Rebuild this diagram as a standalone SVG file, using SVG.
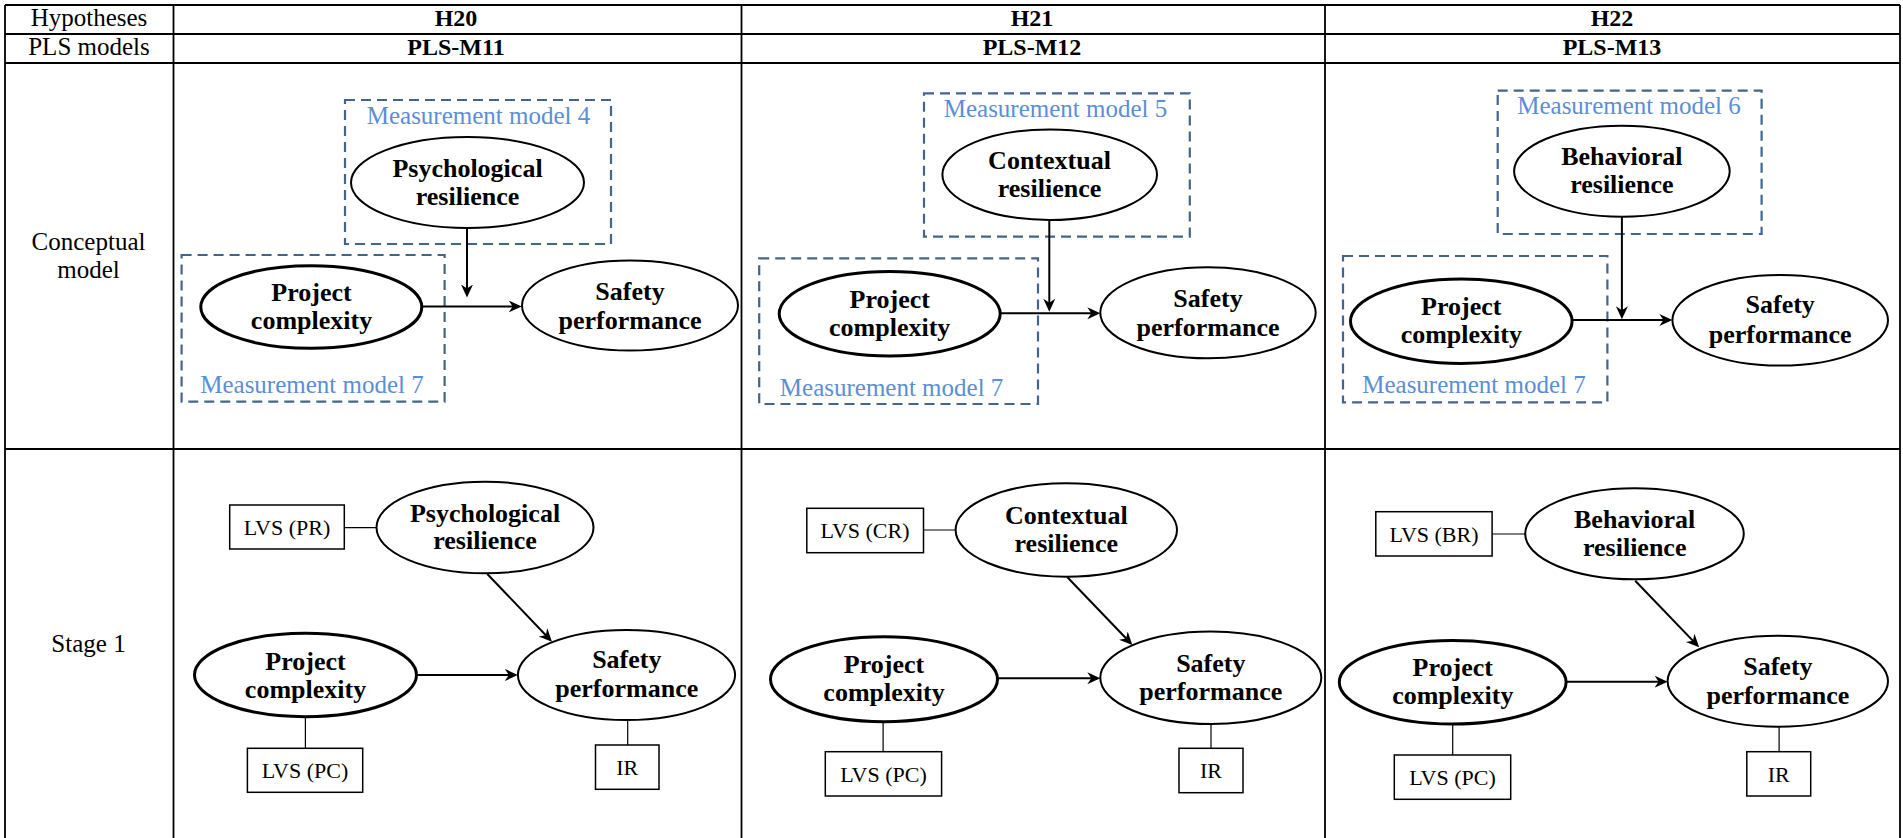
<svg xmlns="http://www.w3.org/2000/svg" width="1903" height="838" viewBox="0 0 1903 838">
<defs>
<marker id="ah" markerUnits="userSpaceOnUse" markerWidth="15" markerHeight="13" refX="10" refY="6" orient="auto" viewBox="0 0 15 13">
<path d="M0,0 L13,6 L0,12 L4,6 z" fill="#000"/>
</marker>
<style>
text{font-family:"Liberation Serif","Times New Roman",serif;fill:#000}
.grid{stroke:#000;stroke-width:1.8;fill:none}
.hd{font-size:25px;text-anchor:middle}
.hb{font-size:24px;font-weight:bold;text-anchor:middle}
.nt{font-size:26px;font-weight:bold;text-anchor:middle}
.lv{font-size:22px;text-anchor:middle}
.mm{font-size:25px;fill:#5B8ED6;text-anchor:middle}
.dash{fill:none;stroke:#44648E;stroke-width:2.2;stroke-dasharray:10 6}
.el{fill:#fff;stroke:#000;stroke-width:2}
.elb{fill:#fff;stroke:#000;stroke-width:3}
.bx{fill:#fff;stroke:#000;stroke-width:1.5}
.arr{stroke:#000;stroke-width:2;fill:none;marker-end:url(#ah)}
.ln{stroke:#000;stroke-width:1.2;fill:none}
</style>
</defs>
<rect x="0" y="0" width="1903" height="838" fill="#fff"/>

<g id="table">
<path class="grid" d="M5,5 H1900 M5,34 H1900 M5,63 H1900 M5,449 H1900 M5,5 V838 M173.5,5 V838 M741.5,5 V838 M1325,5 V838 M1900,5 V838"/>
<text class="hd" x="89" y="26">Hypotheses</text>
<text class="hd" x="89" y="55">PLS models</text>
<text class="hd" x="88.5" y="250">Conceptual</text>
<text class="hd" x="88.5" y="277.5">model</text>
<text class="hd" x="88.5" y="652">Stage 1</text>
<text class="hb" x="456" y="26">H20</text>
<text class="hb" x="1032" y="26">H21</text>
<text class="hb" x="1612" y="26">H22</text>
<text class="hb" x="456" y="55">PLS-M11</text>
<text class="hb" x="1032" y="55">PLS-M12</text>
<text class="hb" x="1612" y="55">PLS-M13</text>
</g>

<g id="measurement-boxes">
<g id="mm4"><rect class="dash" x="345" y="100" width="266" height="144"/><text class="mm" x="478.5" y="124">Measurement model 4</text></g>
<g id="mm7-a"><rect class="dash" x="181.6" y="255" width="263" height="146.7"/><text class="mm" x="312" y="393">Measurement model 7</text></g>
<g id="mm5"><rect class="dash" x="924" y="93.3" width="265.8" height="143.4"/><text class="mm" x="1055.5" y="116.7">Measurement model 5</text></g>
<g id="mm7-b"><rect class="dash" x="759.2" y="258.3" width="278.8" height="145.7"/><text class="mm" x="891.6" y="396">Measurement model 7</text></g>
<g id="mm6"><rect class="dash" x="1497.7" y="90.7" width="263.9" height="143.3"/><text class="mm" x="1629" y="114.3">Measurement model 6</text></g>
<g id="mm7-c"><rect class="dash" x="1343" y="256" width="264.4" height="146.3"/><text class="mm" x="1474" y="393.3">Measurement model 7</text></g>
</g>

<g id="connectors">
<line class="arr" x1="467" y1="228" x2="467" y2="294.5"/>
<line class="arr" x1="421.8" y1="306.5" x2="518.7" y2="306.5"/>
<line class="arr" x1="1049.3" y1="220" x2="1049.3" y2="308.7"/>
<line class="arr" x1="1000.2" y1="313.3" x2="1097.3" y2="313.3"/>
<line class="arr" x1="1621.9" y1="216.7" x2="1621.9" y2="316.3"/>
<line class="arr" x1="1572" y1="320" x2="1669.4" y2="320"/>

<line class="ln" x1="344.3" y1="527.7" x2="376.8" y2="527.7"/>
<line class="arr" x1="487.3" y1="574" x2="549.9" y2="639.5"/>
<line class="arr" x1="416.3" y1="675" x2="514.9" y2="675"/>
<line class="ln" x1="305.4" y1="716.7" x2="305.4" y2="748.3"/>
<line class="ln" x1="627.7" y1="720" x2="627.7" y2="745"/>

<line class="ln" x1="923.5" y1="530" x2="955.6" y2="530"/>
<line class="arr" x1="1067.4" y1="577.3" x2="1130.3" y2="642.8"/>
<line class="arr" x1="997.5" y1="678.3" x2="1097.3" y2="678.3"/>
<line class="ln" x1="883.1" y1="721.7" x2="883.1" y2="751.7"/>
<line class="ln" x1="1211" y1="724" x2="1211" y2="748.3"/>

<line class="ln" x1="1492.1" y1="534" x2="1525.2" y2="534"/>
<line class="arr" x1="1635.2" y1="580.7" x2="1697.1" y2="645.1"/>
<line class="arr" x1="1566.1" y1="681.7" x2="1664.6" y2="681.7"/>
<line class="ln" x1="1452.7" y1="724" x2="1452.7" y2="755"/>
<line class="ln" x1="1779.1" y1="726.7" x2="1779.1" y2="751.7"/>
</g>

<g id="c1-pr"><ellipse class="el" cx="467.5" cy="182.5" rx="116.5" ry="45.5"/><text class="nt" x="467.5" y="177">Psychological</text><text class="nt" x="467.5" y="205">resilience</text></g>
<g id="c1-pc"><ellipse class="elb" cx="311.3" cy="307" rx="110.5" ry="41.3"/><text class="nt" x="311.5" y="300.7">Project</text><text class="nt" x="311.5" y="329.3">complexity</text></g>
<g id="c1-sp"><ellipse class="el" cx="630" cy="305.5" rx="108" ry="45"/><text class="nt" x="630" y="300">Safety</text><text class="nt" x="630" y="329">performance</text></g>

<g id="c2-cr"><ellipse class="el" cx="1049.7" cy="174.7" rx="107.3" ry="45.3"/><text class="nt" x="1049.5" y="169.3">Contextual</text><text class="nt" x="1049.5" y="196.7">resilience</text></g>
<g id="c2-pc"><ellipse class="elb" cx="889.7" cy="313.8" rx="110.5" ry="42.2"/><text class="nt" x="889.7" y="308.3">Project</text><text class="nt" x="889.7" y="336">complexity</text></g>
<g id="c2-sp"><ellipse class="el" cx="1208" cy="312.8" rx="107.7" ry="45.5"/><text class="nt" x="1208" y="307.3">Safety</text><text class="nt" x="1208" y="336">performance</text></g>

<g id="c3-br"><ellipse class="el" cx="1621.9" cy="171.2" rx="107.8" ry="45.5"/><text class="nt" x="1621.9" y="165">Behavioral</text><text class="nt" x="1621.9" y="193.3">resilience</text></g>
<g id="c3-pc"><ellipse class="elb" cx="1461.3" cy="321.2" rx="110.8" ry="42.2"/><text class="nt" x="1461.3" y="315">Project</text><text class="nt" x="1461.3" y="343.3">complexity</text></g>
<g id="c3-sp"><ellipse class="el" cx="1780.2" cy="320.3" rx="107.8" ry="45.3"/><text class="nt" x="1780.2" y="313.3">Safety</text><text class="nt" x="1780.2" y="342.7">performance</text></g>

<g id="s1-lvspr"><rect class="bx" x="229.7" y="505" width="114.6" height="44"/><text class="lv" x="287" y="535">LVS (PR)</text></g>
<g id="s1-pr"><ellipse class="el" cx="485" cy="527.5" rx="108.5" ry="45.8"/><text class="nt" x="485" y="521.7">Psychological</text><text class="nt" x="485" y="549.3">resilience</text></g>
<g id="s1-pc"><ellipse class="elb" cx="305.5" cy="675" rx="111" ry="41.7"/><text class="nt" x="305.5" y="670">Project</text><text class="nt" x="305.5" y="698.3">complexity</text></g>
<g id="s1-sp"><ellipse class="el" cx="626.5" cy="675" rx="108.6" ry="45"/><text class="nt" x="626.8" y="668.3">Safety</text><text class="nt" x="626.8" y="696.7">performance</text></g>
<g id="s1-lvspc"><rect class="bx" x="247.4" y="748.3" width="115.3" height="44"/><text class="lv" x="305" y="778.3">LVS (PC)</text></g>
<g id="s1-ir"><rect class="bx" x="595.5" y="745" width="63.5" height="44.3"/><text class="lv" x="627.3" y="775">IR</text></g>

<g id="s2-lvscr"><rect class="bx" x="806.8" y="508.3" width="116.7" height="44.4"/><text class="lv" x="865" y="538.3">LVS (CR)</text></g>
<g id="s2-cr"><ellipse class="el" cx="1066.3" cy="530" rx="110.7" ry="46.7"/><text class="nt" x="1066.3" y="524">Contextual</text><text class="nt" x="1066.3" y="551.7">resilience</text></g>
<g id="s2-pc"><ellipse class="elb" cx="884" cy="679.2" rx="113.5" ry="42.5"/><text class="nt" x="884" y="672.7">Project</text><text class="nt" x="884" y="700.7">complexity</text></g>
<g id="s2-sp"><ellipse class="el" cx="1210.8" cy="677.8" rx="110.5" ry="46.2"/><text class="nt" x="1210.8" y="671.7">Safety</text><text class="nt" x="1210.8" y="700">performance</text></g>
<g id="s2-lvspc"><rect class="bx" x="825.3" y="751.7" width="116.3" height="44.3"/><text class="lv" x="883.5" y="781.7">LVS (PC)</text></g>
<g id="s2-ir"><rect class="bx" x="1179" y="748.3" width="64" height="44.4"/><text class="lv" x="1211" y="778.3">IR</text></g>

<g id="s3-lvsbr"><rect class="bx" x="1375.8" y="511.7" width="116.3" height="44.3"/><text class="lv" x="1434" y="541.7">LVS (BR)</text></g>
<g id="s3-br"><ellipse class="el" cx="1634.5" cy="533.8" rx="109.3" ry="45.5"/><text class="nt" x="1634.7" y="528.3">Behavioral</text><text class="nt" x="1634.7" y="556">resilience</text></g>
<g id="s3-pc"><ellipse class="elb" cx="1452.7" cy="682.3" rx="113.4" ry="41.7"/><text class="nt" x="1452.8" y="676">Project</text><text class="nt" x="1452.8" y="704">complexity</text></g>
<g id="s3-sp"><ellipse class="el" cx="1777.8" cy="681.2" rx="110.2" ry="45.5"/><text class="nt" x="1777.9" y="675">Safety</text><text class="nt" x="1777.9" y="704">performance</text></g>
<g id="s3-lvspc"><rect class="bx" x="1394.3" y="755" width="116.4" height="44.3"/><text class="lv" x="1452.5" y="785">LVS (PC)</text></g>
<g id="s3-ir"><rect class="bx" x="1746.8" y="751.7" width="63.9" height="44.3"/><text class="lv" x="1778.8" y="781.7">IR</text></g>
</svg>
